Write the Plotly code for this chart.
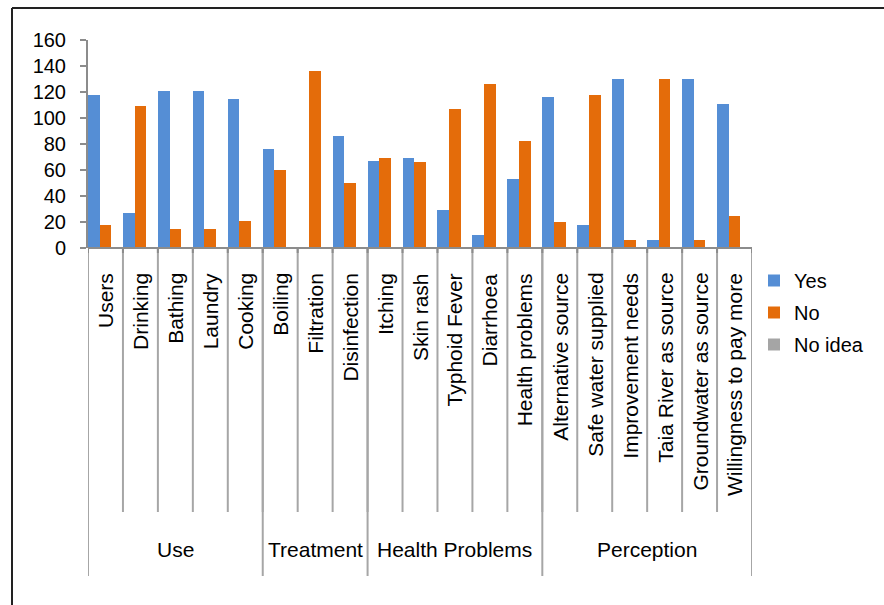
import plotly.graph_objects as go

# Survey responses per question, grouped by theme
groups = ["Use", "Treatment", "Health Problems", "Perception"]
group_sizes = [5, 3, 5, 6]
categories = [
    "Users", "Drinking", "Bathing", "Laundry", "Cooking",
    "Boiling", "Filtration", "Disinfection",
    "Itching", "Skin rash", "Typhoid Fever", "Diarrhoea", "Health problems",
    "Alternative source", "Safe water supplied", "Improvement needs",
    "Taia River as source", "Groundwater as source", "Willingness to pay more",
]
yes_counts = [118, 27, 121, 121, 115, 76, 0, 86, 67, 69, 29, 10, 53, 116, 18, 130, 6, 130, 111]
no_counts = [18, 109, 15, 15, 21, 60, 136, 50, 69, 66, 107, 126, 82, 20, 118, 6, 130, 6, 25]
no_idea_counts = [0] * 19

y_ticks = [0, 20, 40, 60, 80, 100, 120, 140, 160]

FONT = "Liberation Sans, Arial, sans-serif"
W, H = 884, 605
L, R, T, B = 88, 132, 40, 357
PW, PH = W - L - R, H - T - B
AXIS_GRAY = "#8c8c8c"
SEP_GRAY = "#a6a6a6"


def px_x(px):
    return (px - L) / PW


def px_y(py):
    return (H - B - py) / PH


fig = go.Figure()
series = [("Yes", yes_counts, "#558ED5"), ("No", no_counts, "#E46C0A"),
          ("No idea", no_idea_counts, "#A5A5A5")]
for name, vals, color in series:
    fig.add_trace(go.Bar(x=categories, y=vals, name=name, legendgroup=name,
                         marker=dict(color=color, line=dict(width=0))))

shapes = []
n = len(categories)
# separators between individual categories
for k in range(n + 1):
    shapes.append(dict(type="line", xref="x", yref="paper", x0=k - 0.5, x1=k - 0.5,
                       y0=px_y(H - B), y1=px_y(512), line=dict(color=SEP_GRAY, width=2)))
# separators between themes (longer)
edge = 0
bounds = [0]
for s in group_sizes:
    edge += s
    bounds.append(edge)
for b in bounds:
    shapes.append(dict(type="line", xref="x", yref="paper", x0=b - 0.5, x1=b - 0.5,
                       y0=px_y(H - B), y1=px_y(576), line=dict(color=SEP_GRAY, width=2)))
# short dark tick marks below the baseline
for k in range(n + 1):
    shapes.append(dict(type="line", xref="x", yref="paper", x0=k - 0.5, x1=k - 0.5,
                       y0=px_y(H - B), y1=px_y(H - B + 5), line=dict(color=AXIS_GRAY, width=2)))
# baseline
shapes.append(dict(type="line", xref="x", yref="paper", x0=-0.5, x1=n - 0.5,
                   y0=0, y1=0, line=dict(color=AXIS_GRAY, width=2)))
# chart frame (top and left edges)
shapes.append(dict(type="line", xref="paper", yref="paper", x0=px_x(12), x1=px_x(W + 10),
                   y0=px_y(8), y1=px_y(8), line=dict(color="#222222", width=2)))
shapes.append(dict(type="line", xref="paper", yref="paper", x0=px_x(12), x1=px_x(12),
                   y0=px_y(8), y1=px_y(H + 10), line=dict(color="#222222", width=2)))

annotations = []
for c in categories:
    annotations.append(dict(x=c, y=px_y(271), xref="x", yref="paper", text=c,
                            textangle=-90, xanchor="center", yanchor="top",
                            showarrow=False, font=dict(family=FONT, size=21, color="#000")))
start = 0
for g, s in zip(groups, group_sizes):
    annotations.append(dict(x=start + (s - 1) / 2, y=px_y(549), xref="x", yref="paper",
                            text=g, xanchor="center", yanchor="middle", showarrow=False,
                            font=dict(family=FONT, size=21, color="#000")))
    start += s

fig.update_layout(
    width=W, height=H,
    margin=dict(l=L, r=R, t=T, b=B, pad=0),
    paper_bgcolor="white", plot_bgcolor="white",
    barmode="group", bargap=0, bargroupgap=0,
    font=dict(family=FONT, size=20, color="#000"),
    xaxis=dict(type="category", range=[-0.5, n - 0.5], showticklabels=False,
               showgrid=False, zeroline=False, showline=False, ticks=""),
    yaxis=dict(range=[0, 160], tickvals=y_ticks, showgrid=False, zeroline=False,
               showline=True, linecolor=AXIS_GRAY, linewidth=2, ticks="outside",
               ticklen=6, tickcolor=AXIS_GRAY, tickwidth=2, ticklabelstandoff=10,
               tickfont=dict(family=FONT, size=20, color="#000")),
    legend=dict(x=px_x(754), y=px_y(261), xanchor="left", yanchor="top",
                font=dict(family=FONT, size=20, color="#000"),
                traceorder="grouped", tracegroupgap=3, itemwidth=30,
                bgcolor="rgba(0,0,0,0)"),
    shapes=shapes, annotations=annotations,
)

fig.write_html("out.html")
